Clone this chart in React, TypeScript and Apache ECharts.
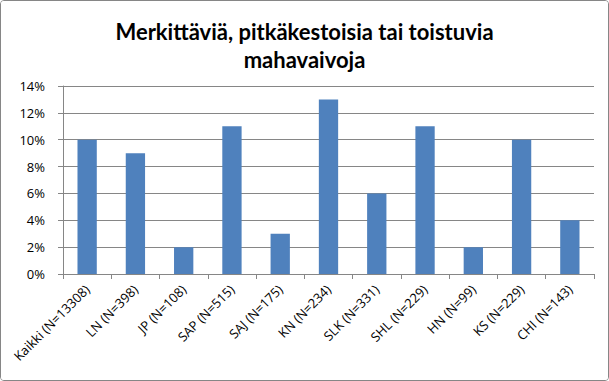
import React, { useEffect, useRef } from "react";
import * as echarts from "echarts";

const categories = [
  "Kaikki (N=13308)",
  "LN (N=398)",
  "JP (N=108)",
  "SAP (N=515)",
  "SAJ (N=175)",
  "KN (N=234)",
  "SLK (N=331)",
  "SHL (N=229)",
  "HN (N=99)",
  "KS (N=229)",
  "CHI (N=143)",
];
const values = [10, 9, 2, 11, 3, 13, 6, 11, 2, 10, 4];
const titleText = "Merkittäviä, pitkäkestoisia tai toistuvia\nmahavaivoja";

export default function App() {
  const ref = useRef<HTMLDivElement>(null);
  useEffect(() => {
    document.body.style.margin = "0";
    if (!ref.current) return;
    const chart = echarts.init(ref.current, null, { renderer: "svg" });
    chart.setOption({
      animation: false,
      backgroundColor: "#fff",
      title: {
        text: titleText,
        left: "center",
        top: 11,
        textStyle: {
          fontFamily: "Lato",
          fontWeight: "bold",
          fontSize: 22,
          lineHeight: 28,
          color: "#000",
        },
      },
      grid: { left: 62, right: 14, top: 85, bottom: 106 },
      xAxis: {
        type: "category",
        data: categories,
        axisLine: { lineStyle: { color: "#868686" } },
        axisTick: { show: true, alignWithLabel: false, length: 5, lineStyle: { color: "#868686" } },
        axisLabel: {
          rotate: 45,
          interval: 0,
          fontFamily: "Open Sans",
          fontSize: 13,
          color: "#000",
          margin: 13,
        },
      },
      yAxis: {
        type: "value",
        min: 0,
        max: 14,
        interval: 2,
        axisLine: { show: true, lineStyle: { color: "#868686" } },
        axisTick: { show: true, length: 5, lineStyle: { color: "#868686" } },
        splitLine: { lineStyle: { color: "#868686" } },
        axisLabel: {
          formatter: "{value}%",
          fontFamily: "Open Sans",
          fontSize: 13,
          color: "#000",
          margin: 18,
        },
      },
      series: [
        {
          type: "bar",
          data: values,
          barWidth: "40%",
          itemStyle: { color: "#4F81BD" },
        },
      ],
    });
    return () => chart.dispose();
  }, []);
  return (
    <div
      style={{
        width: 609,
        height: 381,
        boxSizing: "border-box",
        border: "1px solid #868686",
        borderRadius: 4,
        overflow: "hidden",
      }}
    >
      <div ref={ref} style={{ width: 607, height: 379 }} />
    </div>
  );
}
